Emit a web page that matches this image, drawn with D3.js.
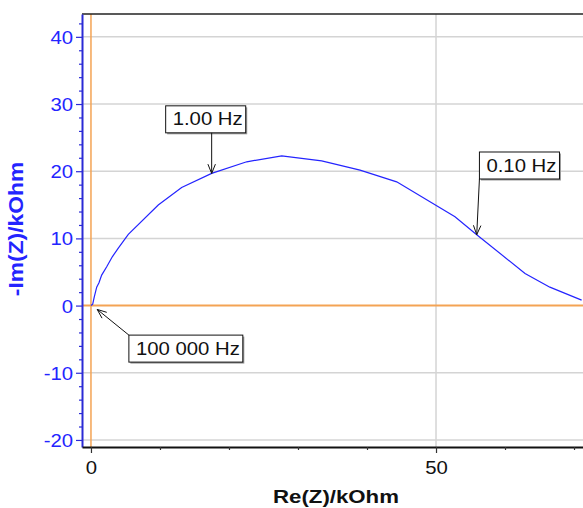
<!DOCTYPE html>
<html>
<head>
<meta charset="utf-8">
<script src="https://cdnjs.cloudflare.com/ajax/libs/d3/7.8.5/d3.min.js"></script>
<style>
  html, body { margin: 0; padding: 0; background: #fff; }
  text { font-family: "Liberation Sans", Arial, sans-serif; }
</style>
</head>
<body>
<div id="container"></div>
<script>
/* DATA */
const reZ = [0, 0.25, 0.48, 0.83, 1.16, 1.55, 2.28, 3.09, 3.96, 5.41, 9.75, 13.14, 17.49, 22.57, 27.64, 33.43, 38.99, 44.30, 52.75, 55.9, 62.9, 66.5, 71.1];
const imZ = [0, 0.22, 1.31, 2.75, 3.39, 4.54, 5.77, 7.26, 8.56, 10.6, 14.96, 17.59, 19.67, 21.40, 22.29, 21.55, 20.16, 18.42, 13.21, 10.55, 4.78, 2.74, 0.81];

const xTicks = [0, 50];
const xMinorTicks = [10, 20, 30, 40, 60, 70];
const yTicks = [-20, -10, 0, 10, 20, 30, 40];
const yMinorTicks = [-18, -16, -14, -12, -8, -6, -4, -2, 2, 4, 6, 8, 12, 14, 16, 18, 22, 24, 26, 28, 32, 34, 36, 38, 42];

const freqLabels = ["1.00 Hz", "0.10 Hz", "100 000 Hz"];
const freqRe = [17.49, 55.9, 0.9];
const freqIm = [19.67, 10.55, -0.57];

/* CONSTANTS AND GLOBALS */
const width = 583,
  height = 508,
  margin = { top: 14, bottom: 61, left: 82, right: 0 };

const blue = "#2424ff",
  axisBlue = "#2a2ad6",
  orange = "#f4a354",
  grid = "#d4d4d4";

// text in the reference is a little wider than plain Arial
const sx = 1.13, sxBold = 1.17;

const svg = d3.select("#container")
  .append("svg")
  .attr("width", width)
  .attr("height", height)

// SCALES
const x = d3.scaleLinear()
  .domain([-1.3, 71.3])
  .range([margin.left, width - margin.right])

const y = d3.scaleLinear()
  .domain([-21.05, 43.4])
  .range([height - margin.bottom, margin.top])

const plotTop = margin.top, plotBottom = height - margin.bottom,
  plotLeft = margin.left, plotRight = width - margin.right;

// GRID
svg.selectAll("line.hgrid")
  .data(yTicks.filter(d => d !== 0))
  .join("line")
  .attr("class", "hgrid")
  .attr("x1", plotLeft).attr("x2", plotRight)
  .attr("y1", d => y(d)).attr("y2", d => y(d))
  .attr("stroke", grid)
  .attr("stroke-width", 1.5)

svg.selectAll("line.vgrid")
  .data(xTicks.filter(d => d !== 0))
  .join("line")
  .attr("class", "vgrid")
  .attr("x1", d => x(d)).attr("x2", d => x(d))
  .attr("y1", plotTop).attr("y2", plotBottom)
  .attr("stroke", grid)
  .attr("stroke-width", 1.5)

// ZERO LINES
svg.append("line")
  .attr("x1", plotLeft).attr("x2", plotRight)
  .attr("y1", y(0)).attr("y2", y(0))
  .attr("stroke", orange)
  .attr("stroke-width", 2)

svg.append("line")
  .attr("x1", x(0)).attr("x2", x(0))
  .attr("y1", plotTop).attr("y2", plotBottom)
  .attr("stroke", orange)
  .attr("stroke-width", 1.5)

// CURVE
svg.append("clipPath")
  .attr("id", "plotClip")
  .append("rect")
  .attr("x", plotLeft).attr("y", plotTop)
  .attr("width", plotRight - plotLeft).attr("height", plotBottom - plotTop)

const line = d3.line()
  .x(i => x(reZ[i]))
  .y(i => y(imZ[i]))

svg.append("path")
  .attr("d", line(d3.range(reZ.length)))
  .attr("clip-path", "url(#plotClip)")
  .attr("fill", "none")
  .attr("stroke", blue)
  .attr("stroke-width", 1.2)

// TOP BORDER
svg.append("line")
  .attr("x1", plotLeft).attr("x2", plotRight)
  .attr("y1", plotTop).attr("y2", plotTop)
  .attr("stroke", "#222")
  .attr("stroke-width", 1.5)

// Y AXIS
const yAxis = svg.append("g")
  .attr("transform", `translate(${plotLeft},0)`)
  .call(d3.axisLeft(y).tickValues(yTicks).tickSize(6).tickSizeOuter(0).tickFormat(d => String(d)))

yAxis.select(".domain").attr("stroke", axisBlue).attr("stroke-width", 2)
yAxis.selectAll(".tick line").attr("stroke", axisBlue).attr("stroke-width", 1.2)
yAxis.selectAll(".tick text")
  .attr("x", null).attr("dy", "0.36em")
  .attr("transform", `translate(-9,0) scale(${sx},1)`)
  .attr("fill", blue)
  .style("font-size", "18px")

svg.append("g")
  .attr("transform", `translate(${plotLeft},0)`)
  .call(d3.axisLeft(y).tickValues(yMinorTicks).tickSize(3).tickFormat(""))
  .call(g => g.select(".domain").remove())
  .selectAll(".tick line").attr("stroke", axisBlue).attr("stroke-width", 1.2)

// X AXIS
const xAxis = svg.append("g")
  .attr("transform", `translate(0,${plotBottom})`)
  .call(d3.axisBottom(x).tickValues(xTicks).tickSize(6).tickSizeOuter(0).tickFormat(d => String(d)))

xAxis.select(".domain").attr("stroke", "#111").attr("stroke-width", 2)
xAxis.selectAll(".tick line").attr("stroke", "#333").attr("stroke-width", 1.2)
xAxis.selectAll(".tick text")
  .attr("y", null).attr("dy", null)
  .attr("transform", `translate(0,27) scale(${sx},1)`)
  .attr("fill", "#111")
  .style("font-size", "18px")

svg.append("g")
  .attr("transform", `translate(0,${plotBottom})`)
  .call(d3.axisBottom(x).tickValues(xMinorTicks).tickSize(3).tickFormat(""))
  .call(g => g.select(".domain").remove())
  .selectAll(".tick line").attr("stroke", "#333").attr("stroke-width", 1.2)

// AXIS TITLES
svg.append("text")
  .attr("transform", `translate(23,229) rotate(-90) scale(${sxBold},1)`)
  .attr("text-anchor", "middle")
  .attr("fill", blue)
  .style("font-size", "19.5px")
  .style("font-weight", "bold")
  .text("-Im(Z)/kOhm")

svg.append("text")
  .attr("transform", `translate(336,503) scale(${sxBold},1)`)
  .attr("text-anchor", "middle")
  .attr("fill", "#111")
  .style("font-size", "19px")
  .style("font-weight", "bold")
  .text("Re(Z)/kOhm")

// FREQUENCY CALLOUTS (box offset from the marked point, in px)
const boxOffset = [[-46, -67.6], [2.7, -82.7], [31.7, 25.7]];
const boxH = 27;

freqLabels.forEach((label, i) => {
  const px = x(freqRe[i]), py = y(freqIm[i]);
  const bx = px + boxOffset[i][0], by = py + boxOffset[i][1];

  const g = svg.append("g");
  const shadow = g.append("rect").attr("fill", "#9a9a9a");
  const box = g.append("rect").attr("fill", "#fff").attr("stroke", "#111").attr("stroke-width", 1);
  const t = g.append("text")
    .attr("transform", `translate(${bx + 7},${by + 19.6}) scale(${sx},1)`)
    .attr("fill", "#111")
    .style("font-size", "18px")
    .text(label);

  const bw = t.node().getComputedTextLength() * sx + 10;
  box.attr("x", bx).attr("y", by).attr("width", bw).attr("height", boxH);
  shadow.attr("x", bx + 1.5).attr("y", by + 1.5).attr("width", bw).attr("height", boxH);

  // arrow from nearest box point to the data point
  const sx0 = Math.max(bx, Math.min(bx + bw, px)),
    sy0 = Math.max(by, Math.min(by + boxH, py));
  const ang = Math.atan2(py - sy0, px - sx0);
  const len = 10, spread = 22 * Math.PI / 180;
  const wing = s => [px - len * Math.cos(ang + s), py - len * Math.sin(ang + s)];
  const w1 = wing(spread), w2 = wing(-spread);

  g.append("path")
    .attr("d", `M${sx0},${sy0}L${px},${py}M${w1[0]},${w1[1]}L${px},${py}L${w2[0]},${w2[1]}`)
    .attr("fill", "none")
    .attr("stroke", "#111")
    .attr("stroke-width", 1)
});
</script>
</body>
</html>
